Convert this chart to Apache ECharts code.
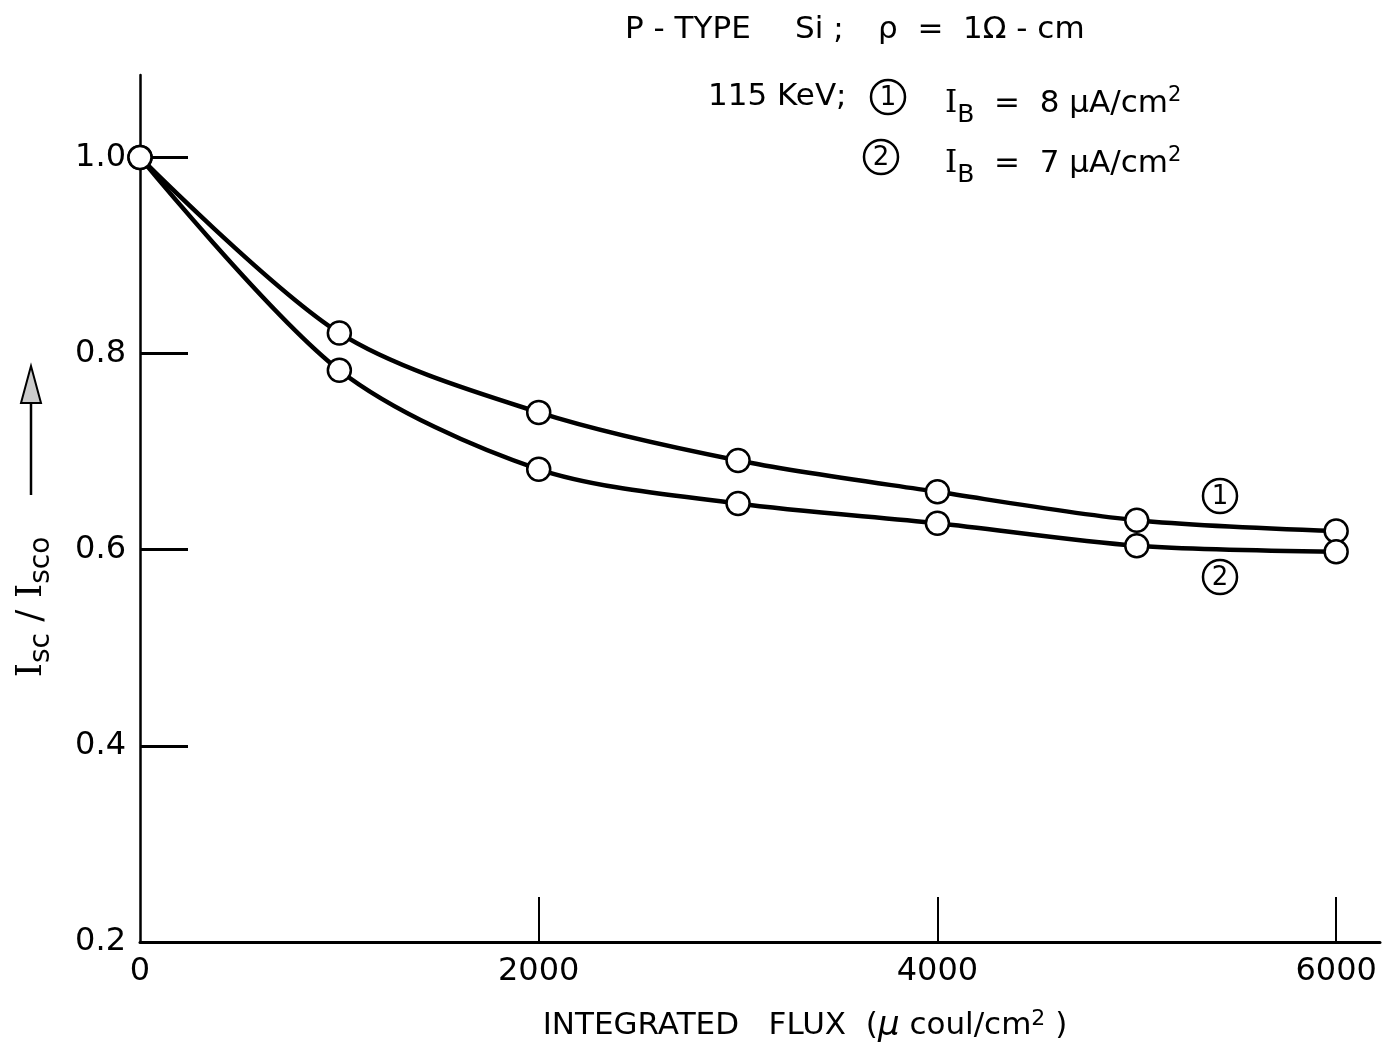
<!DOCTYPE html>
<html>
<head>
<meta charset="utf-8">
<script src="https://cdn.jsdelivr.net/npm/echarts@6/dist/echarts.min.js"></script>
<style>
  html, body { margin: 0; padding: 0; background: #fff; }
  #chart { width: 1393px; height: 1049px; }
</style>
</head>
<body>
<div id="chart"></div>
<script>
// integrated flux (micro coul / cm^2)
let flux = [0, 1000, 2000, 3000, 4000, 5000, 6000];
// Isc / Isco, curve 1 (IB = 8 uA/cm2) and curve 2 (IB = 7 uA/cm2)
let curve1 = [1.0, 0.821, 0.740, 0.691, 0.659, 0.630, 0.619];
let curve2 = [1.0, 0.783, 0.682, 0.647, 0.627, 0.604, 0.598];

let xLabels = [0, 2000, 4000, 6000];
let xTicks = [2000, 4000, 6000];
let yLabels = [0.2, 0.4, 0.6, 0.8, 1.0];
let yTicks = [0.4, 0.6, 0.8, 1.0];

let font = 'DejaVu Sans';

let chart = echarts.init(document.getElementById('chart'));

function pairs(ys) {
    return flux.map((x, i) => [x, ys[i]]);
}

function circled(cx, cy, txt) {
    return [
        { type: 'circle', shape: { cx: cx, cy: cy, r: 17 }, style: { fill: 'none', stroke: '#000', lineWidth: 2.5 } },
        { type: 'text', x: cx, y: cy + 1, style: { text: txt, fontFamily: font, fontSize: 26, fill: '#000', align: 'center', verticalAlign: 'middle' } }
    ];
}

let subRich = {
    b: { fontFamily: 'DejaVu Serif', fontSize: 31, fill: '#000' },
    s: { fontFamily: font, fontSize: 25, fill: '#000', padding: [22, 0, 0, 0] },
    t: { fontFamily: font, fontSize: 31, fill: '#000' },
    p: { fontFamily: font, fontSize: 21, fill: '#000', padding: [0, 0, 16, 0] }
};

function headText(x, y, txt) {
    return { type: 'text', x: x, y: y, style: { text: txt, fontFamily: font, fontSize: 31, fill: '#000', verticalAlign: 'middle' } };
}

let option = {
    animation: false,
    backgroundColor: '#fff',
    grid: { left: 140, right: 13, top: 75, bottom: 107, outerBoundsMode: 'none' },
    xAxis: {
        type: 'value',
        min: 0,
        max: 6220,
        interval: 2000,
        name: 'INTEGRATED   FLUX  ({m|μ} coul/cm{p|2} )',
        nameLocation: 'middle',
        nameGap: 66,
        nameTextStyle: {
            fontFamily: font, fontSize: 31, color: '#000',
            padding: [0, 0, 0, 90],
            rich: {
                m: { fontFamily: font, fontSize: 34, fontStyle: 'italic', color: '#000' },
                p: { fontFamily: font, fontSize: 22, color: '#000', padding: [0, 0, 14, 0] }
            }
        },
        axisLine: { lineStyle: { color: '#000', width: 3 } },
        axisTick: { show: true, inside: true, length: 45, customValues: xTicks, lineStyle: { color: '#000', width: 2 } },
        axisLabel: {
            customValues: xLabels, fontFamily: font, fontSize: 32, color: '#000', margin: 14,
            formatter: v => String(v)
        },
        splitLine: { show: false }
    },
    yAxis: {
        type: 'value',
        min: 0.2,
        max: 1.084,
        interval: 0.2,
        axisLine: { show: true, lineStyle: { color: '#000', width: 2.5 } },
        axisTick: { show: true, inside: true, length: 48, customValues: yTicks, lineStyle: { color: '#000', width: 3 } },
        axisLabel: {
            customValues: yLabels, fontFamily: font, fontSize: 32, color: '#000', margin: 14,
            formatter: v => v.toFixed(1)
        },
        splitLine: { show: false }
    },
    series: [
        {
            name: '1', type: 'line', data: pairs(curve1), smooth: 0.3,
            symbol: 'circle', symbolSize: 23,
            itemStyle: { color: '#fff', borderColor: '#000', borderWidth: 2.5 },
            lineStyle: { color: '#000', width: 4.5 }
        },
        {
            name: '2', type: 'line', data: pairs(curve2), smooth: 0.3,
            symbol: 'circle', symbolSize: 23,
            itemStyle: { color: '#fff', borderColor: '#000', borderWidth: 2.5 },
            lineStyle: { color: '#000', width: 4.5 }
        }
    ],
    graphic: [
        headText(625, 30, 'P - TYPE'),
        headText(795, 30, 'Si ;'),
        headText(878, 30, 'ρ  =  1Ω - cm'),
        headText(708, 97, '115 KeV;'),
        { type: 'text', x: 945, y: 104, style: { text: '{b|I}{s|B}{t|  =  8 μA/cm}{p|2}', rich: subRich, verticalAlign: 'middle' } },
        { type: 'text', x: 945, y: 164, style: { text: '{b|I}{s|B}{t|  =  7 μA/cm}{p|2}', rich: subRich, verticalAlign: 'middle' } },
        ...circled(888, 97, '1'),
        ...circled(881, 157, '2'),
        ...circled(1220, 496, '1'),
        ...circled(1220, 577, '2'),
        {
            type: 'text', x: 32, y: 607, rotation: Math.PI / 2,
            style: {
                text: '{b|I}{s|sc}{t| / }{b|I}{s|sco}',
                rich: {
                    b: { fontFamily: 'DejaVu Serif', fontSize: 36, fill: '#000' },
                    s: { fontFamily: font, fontSize: 28, fill: '#000', padding: [20, 0, 0, 0] },
                    t: { fontFamily: font, fontSize: 36, fill: '#000' }
                },
                align: 'center', verticalAlign: 'middle'
            }
        },
        { type: 'line', shape: { x1: 31, y1: 495, x2: 31, y2: 400 }, style: { stroke: '#000', lineWidth: 2.5 } },
        { type: 'polygon', shape: { points: [[31, 366], [21, 403], [41, 403]] }, style: { fill: '#ccc', stroke: '#000', lineWidth: 2 } }
    ]
};

chart.setOption(option);
</script>
</body>
</html>
